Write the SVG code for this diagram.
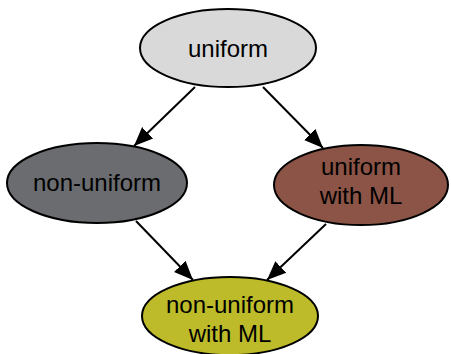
<svg xmlns="http://www.w3.org/2000/svg" width="451" height="354" viewBox="0 0 451 354">
<style>
.n ellipse{stroke:#000;stroke-width:2}
.n text{font-family:"Liberation Sans",Arial,sans-serif;font-size:24px;fill:#000;text-anchor:middle}
.c line{stroke:#000;stroke-width:2;marker-end:url(#a)}
</style>
<defs>
<marker id="a" viewBox="0 0 10 10" refX="10" refY="5" markerWidth="9.5" markerHeight="9.5" orient="auto" markerUnits="strokeWidth">
<path d="M0,0.8L10,5L0,9.2z" fill="#000"/>
</marker>
</defs>
<rect width="451" height="354" fill="#fff"/>
<g id="connectors" class="c">
<line x1="195" y1="87" x2="134" y2="146"/>
<line x1="263" y1="87" x2="323" y2="148"/>
<line x1="136" y1="221" x2="193" y2="280"/>
<line x1="326" y1="224" x2="267" y2="280"/>
</g>
<g id="uniform" class="n">
<ellipse cx="228" cy="48" rx="88" ry="39" fill="#d9d9da"/>
<text x="228" y="57">uniform</text>
</g>
<g id="non-uniform" class="n">
<ellipse cx="97" cy="183" rx="90" ry="40" fill="#6b6c70"/>
<text x="97" y="191">non-uniform</text>
</g>
<g id="uniform-ml" class="n">
<ellipse cx="361" cy="185" rx="87" ry="40" fill="#8b5446"/>
<text x="361" y="175">uniform</text>
<text x="361" y="204">with ML</text>
</g>
<g id="non-uniform-ml" class="n">
<ellipse cx="230" cy="316" rx="88" ry="39" fill="#bdbb2a"/>
<text x="230" y="313">non-uniform</text>
<text x="230" y="342">with ML</text>
</g>
</svg>
